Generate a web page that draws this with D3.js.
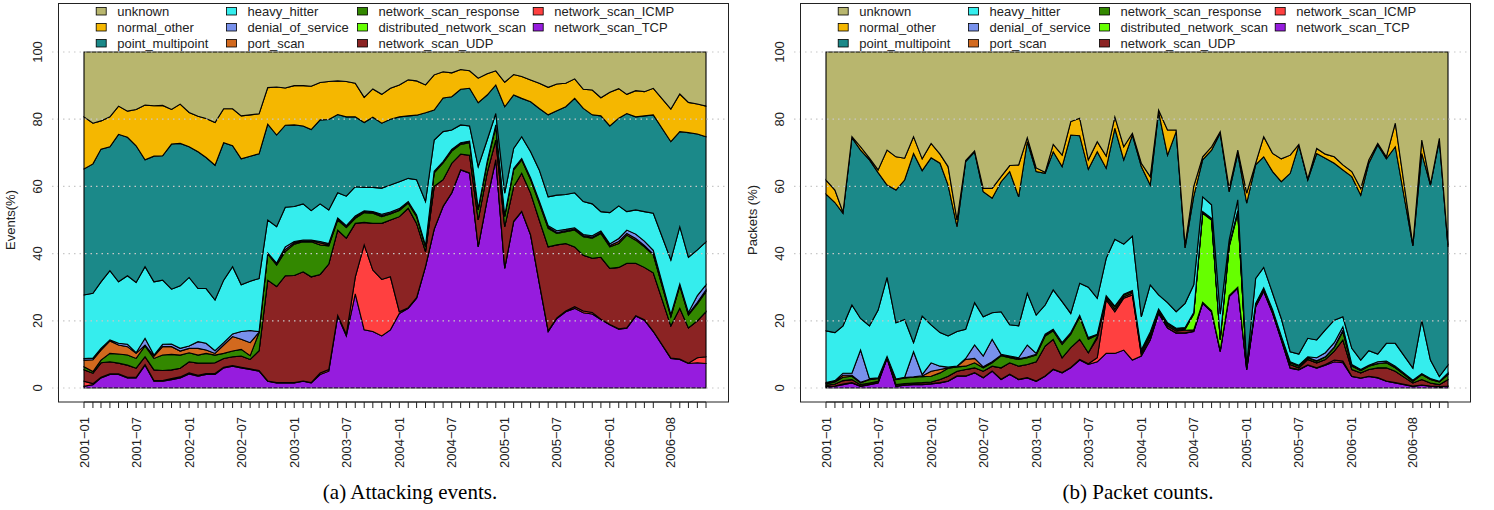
<!DOCTYPE html>
<html>
<head>
<meta charset="utf-8">
<script src="https://cdn.jsdelivr.net/npm/d3@7"></script>
<style>
body { margin: 0; background: #fff; }
svg { display: block; }
text { font-family: "Liberation Sans", Arial, sans-serif; fill: #222; }
</style>
</head>
<body>
<svg id="chart" width="1494" height="510"></svg>
<script>
// monthly samples (2006-07 is missing in the source data)
var months = ["2001-01","2001-02","2001-03","2001-04","2001-05","2001-06","2001-07","2001-08","2001-09","2001-10","2001-11","2001-12",
  "2002-01","2002-02","2002-03","2002-04","2002-05","2002-06","2002-07","2002-08","2002-09","2002-10","2002-11","2002-12",
  "2003-01","2003-02","2003-03","2003-04","2003-05","2003-06","2003-07","2003-08","2003-09","2003-10","2003-11","2003-12",
  "2004-01","2004-02","2004-03","2004-04","2004-05","2004-06","2004-07","2004-08","2004-09","2004-10","2004-11","2004-12",
  "2005-01","2005-02","2005-03","2005-04","2005-05","2005-06","2005-07","2005-08","2005-09","2005-10","2005-11","2005-12",
  "2006-01","2006-02","2006-03","2006-04","2006-05","2006-06","2006-08","2006-09","2006-10","2006-11","2006-12"];

// legend order (top of the stack first)
var categories = ["unknown","normal_other","point_multipoint","heavy_hitter","denial_of_service","port_scan",
  "network_scan_response","distributed_network_scan","network_scan_UDP","network_scan_ICMP","network_scan_TCP"];
var colors = ["#B8B66E","#F5B700","#1B8989","#35EDED","#7891EC","#D2691E","#338800","#66FF00","#8B2323","#FF4040","#961CDE"];

// (a) attacking events, % per month
var evTCP = [0.5,1,3,4,4,3,3,6.8,2,2, 2.5,3,4.2,3.5,4,4,6,6.5,6,5.5, 5,2,1.5,1.5,1.5,2,1.5,4,5,21.4, 15.5,28,17.3,16.8,15.5,17.3,22.2,23.7,26.7,36.1, 47.2,54,58,64.9,63.9,42,56,67.9,35.6,49.5, 52.5,45.5,31.2,16.8,20.7,22.7,23.7,22.4,22,20.4, 18.8,17.5,17.8,21.4,20.2,16.8, 8.8,8.5,7.3,7.5,7.3];
var evICMP = [1.5,0.3,0.2,0.2,0.2,0.2,0.2,0.2,0.2,0.2, 0.3,0.3,0.3,0.3,0.3,0.3,0.2,0.2,0.2,0.2, 0.2,0.1,0.1,0.1,0.1,0.1,0.1,0.5,0.5,0.2, 0.5,5,25.3,18.3,16.8,15.8,0.5,0.2,0.2,0.1, 0.1,0.1,0.1,0.1,0.1,0.1,0.1,0.1,0.1,0.1, 0.1,0.1,0.1,0.2,0.2,0.2,0.5,0.5,0.5,0.1, 0.1,0.1,0.1,0.1,0.1,0.1, 0.1,0.1,0.1,1.5,2];
var evUDP = [3.4,3.1,4.3,3.6,3.2,3.6,2.7,2.3,3.2,3, 2.6,2.6,3.3,3.6,3.1,3.2,2.6,2.6,3.3,2.8, 5.9,30,28.6,31.8,31.9,32.5,31.5,29.3,31.4,25.4, 28.6,16,6.7,13.9,16.7,16.9,28.3,29.6,22.1,4.4, 12.7,7.9,8.8,4.6,5.3,7.9,7.9,5.8,12.3,10.3, 11.3,12.4,18.7,25,21.7,20.1,17.8,16.6,16.1,18.4, 16.7,18.3,19.2,15.6,15.6,17.4, 9.6,15.1,10.5,11,13.4];
var evDNS = [0,0,0,0,0,0,0,0,0,0, 0,0,0,0,0,0,0,0,0,0, 0,0,0,0,0,0,0,0,0,0, 0,0,0,0,0,0,0,0,0,0, 0,0,0,0,0,0,0,0,0,0, 0,0,0,0,0,0,0,0,0,0, 0,0,0,0,0,0, 0,0,0,0,0];
var evNSR = [0.9,0.5,0.8,2.5,2.7,3,2.9,3.2,3.4,4.6, 4.6,3.9,2.7,2.4,2.9,2.3,1.5,1.7,2,1.1, 5.4,7.8,6.4,7.2,9.3,8.9,10.4,8.8,5.4,3, 3.2,1.5,2.9,3,2,1.8,1.8,1.5,2,1.4, 4,5,3.6,2.9,3.7,3,3,4,3,5, 4,4,5,5.5,3.4,3.5,5,5.5,6,7.1, 6.4,7.1,8.4,6.9,6.1,5.3, 2.7,6.7,3.8,5,6];
var evPort = [2,3.5,3,3.7,2.7,2.5,1.5,0.3,0.7,2.5, 2.3,1.2,1.3,2,1,0.5,2.5,4.3,3,3.9, 0.1,0.1,0.2,0.6,0.4,0.3,0.3,0.6,0.3,0.3, 0.2,0.3,0.2,0.2,0.3,0.2,0.2,0.2,0.2,0.2, 0.3,0.2,0.2,0.2,0.2,0.2,0.2,0.2,0.2,0.2, 0.2,0.2,0.3,0.4,0.3,0.3,0.3,0.3,0.3,0.3, 0.4,0.6,0.5,0.5,0.4,0.3, 0.2,0.2,0.3,0.5,0.5];
var evDoS = [0.5,0.5,0.5,0.3,0.5,0.7,0.2,2,0.3,0.7, 0.8,0.8,0.7,2,2,0.8,0.7,0.8,2.3,3.6, 0.2,0.2,0.4,0.8,0.4,0.2,0.2,0.4,0.4,0.3, 0.3,0.4,0.3,0.3,0.4,0.4,0.4,0.3,0.3,0.2, 0.2,0.2,0.3,0.3,0.3,0.2,0.2,0.3,0.2,0.2, 0.2,0.3,0.4,0.4,0.5,0.4,0.4,0.4,0.4,0.4, 0.5,0.9,1,1.3,1.3,1.1, 0.4,0.4,0.5,2,1.5];
var evHeavy = [18.9,19.3,19.8,20.6,18.3,20.4,20.9,21.3,21.8,19.1, 16.3,18.6,20.4,15.8,16.3,15.1,18.6,20,13.9,14.7, 15.8,9.8,10.8,11.8,10.4,10.8,8.8,11.2,10,7.5, 8.8,8.7,7,7.2,7.8,8,8,6.9,10.5,13.1, 9.3,8.9,5.8,5.3,4.5,12.5,6.4,3.4,6.6,6, 6.5,7.8,9.2,8.6,10.6,10.4,10.4,9.8,9.5,5.8, 9.3,9.7,5.5,7.2,8.8,11, 16.3,17,16.4,13.6,12.8];
var evP2MP = [37.5,38.5,39.5,36.9,43.9,41.2,40.7,31.8,37.4,37, 43.2,42.4,38.9,40.7,39,40.1,40.9,36,37.5,37.2, 37.1,28.5,27.3,24.4,24.3,23.2,24.1,25,26.9,23.3, 23.6,20.8,19.3,20.9,19.3,19.6,19.3,18.6,19.2,26.4, 8.9,10,9.9,10.6,11.2,19,13.4,8.5,25.7,15.9, 11.4,14.9,18.3,24.4,25.1,26.1,28.1,27.7,26.5,28.5, 25.8,26.1,29.2,27.7,28.5,29.3, 35.2,28.3,37.1,34.5,31.3];
var evNormal = [15.5,12.1,8.4,8.9,8.4,7.8,10.8,16.3,15,15, 10.3,11.7,10.2,10.6,11.6,12.7,10.1,11,12.8,12.3, 11.9,10.9,14.3,11.1,11.7,12,12.9,11.1,11.3,10, 10.5,10,7.5,8.4,8.6,9.2,9.5,10.7,10.2,8.3, 10.5,7.8,7.1,5.9,5.2,7.3,6.3,4.2,7.3,6.1, 6.5,6.5,7.5,8.2,8,7,5.8,5.7,7.4,5.4, 10,8.8,5.7,7.8,7.2,7.9, 9.7,11.2,9,8.9,9.1];
var evUnknown = [19.3,21.2,20.5,19.3,16.1,17.6,17.1,15.8,16,15.9, 17.1,15.5,18,19.1,19.8,21,16.9,16.9,19,18.7, 18.4,10.6,10.4,10.7,10,10,10.2,9.1,8.8,8.6, 8.8,9.3,13.5,11,12.6,10.8,9.8,8.3,8.6,9.8, 6.8,5.9,6.2,5.2,5.6,7.8,6.5,5.6,9,6.7, 7.3,8.3,9.3,10.5,9.5,9.3,8,11.1,11.3,13.6, 12,10.9,12.6,11.5,11.8,10.8, 17,12.5,15,15.5,16.1];

// (b) packet counts, % per month
var pkTCP = [0.3,0.5,1,1.5,0.5,1,1.5,8.8,0.5,0.8, 1,1,1.2,1.5,2,3.5,3.5,4.5,3,5, 2.5,4,2.5,3,2,3.5,5.5,4.5,6,8.3, 7,7.8,10.3,10.3,11.3,8.3,9.5,14.3,22.2,17.8, 16.3,16.3,16.8,25.2,22.7,10.8,27.2,29.7,5.4,24.2, 28.7,22.2,14.3,5.9,5.4,6.8,5.9,6.8,7.8,7.5, 3.4,2.9,3.4,3,2,1.5, 0.5,0.8,0.5,0.3,0.5];
var pkICMP = [0.1,0.1,0.2,0.1,0.1,0.1,0.1,0.1,0.1,0.1, 0.1,0.1,0.1,0.1,0.1,0.1,0.1,0.1,0.1,0.1, 0.1,0.1,0.1,0.1,0.1,0.1,0.1,0.1,0.1,0.2, 0.2,1.2,15.9,12.4,15.4,19.4,0.3,0.2,0.1,0.1, 0.1,0.1,0.1,0.1,0.1,0.1,0.1,0.1,0.1,0.1, 0.1,0.1,0.1,0.1,0.1,0.1,0.1,0.2,0.5,0.5, 0.1,0.1,0.1,0.1,0.1,0.1, 0.1,0.1,0.1,0.1,0.1];
var pkUDP = [0.4,0.6,1,0.9,0.4,0.4,0.4,0.2,0.4,0.4, 0.4,0.5,0.5,0.9,1.4,1.4,1.9,1.4,1.9,1.4, 3.4,3.4,3.9,3.9,5.7,8.9,8.9,4.4,5.9,6, 3.3,5.8,0.6,0.8,0.5,0.6,0.7,1,0.5,0.6, 0.6,0.8,0.4,0.2,0.2,0.3,0.2,0.2,0.3,0.3, 0.3,0.3,0.4,1,0.5,1.6,1.5,1.5,2.7,6.3, 2,1.5,2,2.9,3.9,3.4, 0.9,1.6,0.9,0.6,1.9];
var pkDNS = [0,0,0,0,0,0,0,0,0,0, 0,0,0,0,0,0,0,0,0,0, 0,0,0,0,0,0,0,0,0,0, 0,0.5,0,0,0,0,0,0,0,0, 0,0.3,4.7,26.5,27,3.1,14.5,22,0.2,0, 0,0,0,0,0,0,0,0,0,0, 0,0,0,0,0,0, 0,0,0,0,0];
var pkNSR = [0.4,0.6,1,1,0.5,1,0.8,0.1,1.5,1.7, 1.7,1.8,1.7,2,2.4,1.3,1,1.5,1,1, 3.6,1.5,2,2,2,3,2.5,4,4,6.7, 4,0.5,0.5,0.7,0.5,0.5,0.7,0.7,0.4,0.5, 0.4,0.3,0.3,0.3,0.3,0.2,0.3,0.5,0.2,0.4, 0.5,0.5,0.5,0.5,0.5,0.5,0.5,0.7,1,2.5, 1,0.7,1,1.2,1.5,1, 0.5,1.5,1,0.8,1.5];
var pkPort = [0.2,0.2,0.6,0.3,0.2,0.1,0.1,0.1,0.1,0.1, 0.1,0.2,1.5,1,0.1,0.1,2,1.3,0.3,0.3, 0.2,0.2,0.2,0.2,0.2,0.2,0.2,0.2,0.2,0.2, 0.2,0.1,0.1,0.1,0.1,0.1,0.1,0.3,0.2,0.2, 0.2,0.1,0.1,0.1,0.1,0.1,0.1,0.2,0.1,0.1, 0.1,0.1,0.1,0.1,0.1,0.1,0.1,0.1,0.2,0.4, 0.1,0.1,0.1,0.1,0.1,0.1, 0.1,0.1,0.1,0.1,0.1];
var pkDoS = [0.2,0.2,0.6,0.6,9.6,0.2,0.1,0.1,0.1,0.1, 7.5,0.4,2.5,1,0.2,0.1,0.3,4,3.2,6.7, 0.2,0.3,0.3,3.6,0.3,0.3,0.3,0.3,0.3,0.2, 0.3,0.1,0.1,0.1,0.1,0.1,0.1,0.2,0.1,0.2, 0.2,0.1,0.1,0.1,0.1,0.1,0.1,0.1,0.1,0.1, 0.1,0.1,0.1,0.2,0.2,0.2,0.9,1.2,1.3,1, 0.4,0.2,0.2,0.5,0.4,0.4, 0.2,0.2,0.2,0.1,0.4];
var pkHeavy = [15.4,14.3,14.1,20.3,9.4,15.7,20.2,23.5,16.7,17.2, 2.7,17.4,11.3,10,9.3,10.3,8.7,12.6,11.7,7.9, 12.7,9.3,9.5,15.4,11.4,8.7,11.7,12.2,5.7,9.6, 15,10.7,11.1,19.9,14.9,16.2,9.8,14,4.2,6, 4.9,7.2,8.2,4.4,4,7.3,1.5,3.2,0.4,7.4, 6.1,4.9,5.2,3,3.3,5.5,5.3,6.8,6.7,3, 4.8,2.8,4.3,2.3,5.3,6.8, 3.6,15.9,5.5,1.4,2.3];
var pkP2MP = [40.7,38.7,33.5,49.8,50.1,49.4,40.9,27.5,39.5,41.5, 56.3,43.3,49.7,50.4,44.9,31.2,49.9,44.9,37.2,34.1, 38.7,45.6,38.4,45.1,42.7,39.2,41.1,40.2,53.1,43.9, 35.1,43.6,26.8,33,25.1,30.1,44.7,29.7,54.5,43.9, 53.6,16.5,26.3,11,16.3,53.8,14.4,13.8,48.2,33.8, 32.9,36.2,40.7,53.1,62.2,47.1,55.5,51.1,46.7,43.7, 51.1,49.1,55.8,62.2,54.9,58.5, 36.4,49.6,52.1,70.4,35.2];
var pkNormal = [4.2,3.7,0.3,0.3,1,0.5,0.8,10.4,9.9,6.5, 5,3.5,4.3,2.7,5.5,2,0.3,0.3,1,2.9, 1.5,1.8,9.5,1.2,1.1,0.3,2.2,3.4,4,5.2, 2.8,3,3.6,3.4,3.9,0.5,1,2.5,0.5,7.5, 0.5,0.8,3,0.9,1,0.5,1,1,3,0.5, 6,5.4,6.8,5.4,0.2,0.3,1.5,1.2,1.9,1.5, 1.5,2,1,0.5,0.6,7, 0.3,4,0.2,0.5,0.5];
var pkUnknown = [38.1,41.1,47.7,25.2,28.2,31.6,35.1,29.2,31.2,31.6, 25.2,31.8,27.2,30.4,34.1,50,32.3,29.4,40.6,40.6, 37.1,33.8,33.6,25.5,34.5,35.8,27.5,30.7,20.7,19.7, 32.1,26.7,31,19.3,28.2,24.2,33.1,37.1,17.3,23.2, 23.2,57.5,40,31.2,28.2,23.7,40.6,29.2,42,33.1, 25.2,30.2,31.8,30.7,27.5,37.8,28.7,30.4,31.2,33.6, 35.6,40.6,32.1,27.2,31.2,21.2, 57.4,26.2,39.4,25.7,57.5];

var yTicks = [0, 20, 40, 60, 80, 100];

var svg = d3.select("#chart");
var parseMonth = d3.timeParse("%Y-%m");
var stackOrder = categories.slice().reverse();   // bottom layer first

function makeRows(series) {
  // series is in legend order, same as categories
  return months.map(function (m, i) {
    var row = { date: parseMonth(m), label: m };
    categories.forEach(function (c, k) { row[c] = series[k][i]; });
    return row;
  });
}

function drawPanel(ox, rows, ylab, caption, capX) {
  var x = d3.scaleTime()
    .domain([parseMonth("2001-01"), parseMonth("2006-12")])
    .range([ox + 84, ox + 706]);
  var y = d3.scaleLinear().domain([0, 100]).range([388, 52]);

  var g = svg.append("g");

  var layers = d3.stack().keys(stackOrder)(rows);
  var area = d3.area()
    .x(function (d) { return x(d.data.date); })
    .y0(function (d) { return y(d[0]); })
    .y1(function (d) { return y(d[1]); });

  g.selectAll(".layer")
    .data(layers)
    .enter().append("path")
      .attr("class", "layer")
      .attr("d", area)
      .attr("fill", function (d) { return colors[categories.indexOf(d.key)]; })
      .attr("stroke", "#000")
      .attr("stroke-width", 1.1)
      .attr("stroke-linejoin", "miter");

  // dotted grid sits on top of the areas
  g.selectAll(".grid")
    .data(yTicks)
    .enter().append("line")
      .attr("x1", ox + 52).attr("x2", ox + 728)
      .attr("y1", function (d) { return y(d); })
      .attr("y2", function (d) { return y(d); })
      .attr("stroke", "#c8c8c8")
      .attr("stroke-width", 1.2)
      .attr("stroke-dasharray", "1.5,4");

  // box
  g.append("rect")
    .attr("x", ox + 58.5).attr("y", 3.5)
    .attr("width", 670).attr("height", 398.5)
    .attr("fill", "none").attr("stroke", "#222").attr("stroke-width", 1);

  // y tick labels (rotated, R style)
  g.selectAll(".ylab")
    .data(yTicks)
    .enter().append("text")
      .attr("transform", function (d) { return "translate(" + (ox + 42) + "," + y(d) + ") rotate(-90)"; })
      .attr("text-anchor", "middle")
      .style("font-size", "13px")
      .text(function (d) { return d; });

  g.append("text")
    .attr("transform", "translate(" + (ox + 15) + ",220) rotate(-90)")
    .attr("text-anchor", "middle")
    .style("font-size", "13px")
    .text(ylab);

  // x axis: a tick at every sample, label every sixth sample
  g.append("line")
    .attr("x1", x(rows[0].date)).attr("x2", x(rows[rows.length - 1].date))
    .attr("y1", 402).attr("y2", 402)
    .attr("stroke", "#222");
  g.selectAll(".xtick")
    .data(rows)
    .enter().append("line")
      .attr("x1", function (d) { return x(d.date); })
      .attr("x2", function (d) { return x(d.date); })
      .attr("y1", 402).attr("y2", 408)
      .attr("stroke", "#222");
  g.selectAll(".xlab")
    .data(rows.filter(function (d, i) { return i % 6 === 0; }))
    .enter().append("text")
      .attr("transform", function (d) { return "translate(" + x(d.date) + ",417) rotate(-90)"; })
      .attr("text-anchor", "end")
      .attr("dy", "0.35em")
      .style("font-size", "13px")
      .text(function (d) { return d.label.replace("-", "\u2212"); });

  // legend, 4 columns x 3 rows
  var colX = [95.7, 226, 357, 532.7];
  var rowY = [11, 27, 43];
  var leg = g.selectAll(".leg")
    .data(categories)
    .enter().append("g")
      .attr("transform", function (d, k) {
        return "translate(" + (ox + colX[Math.floor(k / 3)]) + "," + rowY[k % 3] + ")";
      });
  leg.append("rect")
    .attr("x", 0.5).attr("y", -3.5)
    .attr("width", 10).attr("height", 7.5)
    .attr("fill", function (d, k) { return colors[k]; })
    .attr("stroke", "#000").attr("stroke-width", 0.8);
  leg.append("text")
    .attr("x", 21.5).attr("y", 5)
    .style("font-size", "13px")
    .text(function (d) { return d; });

  svg.append("text")
    .attr("x", capX).attr("y", 499)
    .attr("text-anchor", "middle")
    .style("font-family", "'Liberation Serif', 'Times New Roman', serif")
    .style("font-size", "21px")
    .style("fill", "#000")
    .text(caption);
}

var eventRows = makeRows([evUnknown, evNormal, evP2MP, evHeavy, evDoS, evPort, evNSR, evDNS, evUDP, evICMP, evTCP]);
var packetRows = makeRows([pkUnknown, pkNormal, pkP2MP, pkHeavy, pkDoS, pkPort, pkNSR, pkDNS, pkUDP, pkICMP, pkTCP]);

drawPanel(0, eventRows, "Events(%)", "(a) Attacking events.", 410);
drawPanel(742, packetRows, "Packets (%)", "(b) Packet counts.", 1138);
</script>
</body>
</html>
